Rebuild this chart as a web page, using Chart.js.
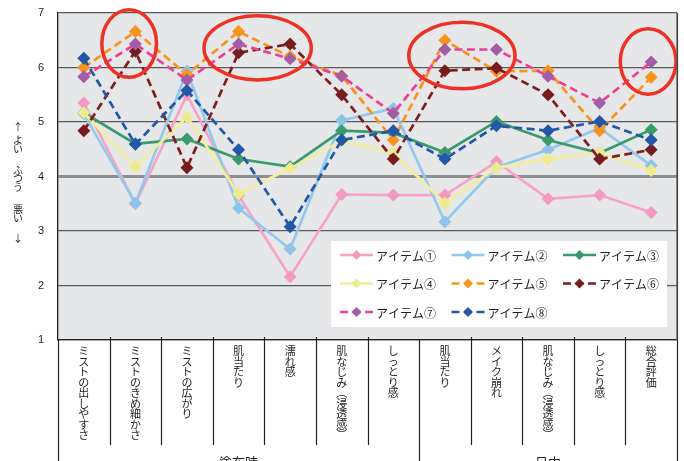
<!DOCTYPE html>
<html><head><meta charset="utf-8">
<script src="https://cdn.jsdelivr.net/npm/chart.js@4.4.1/dist/chart.umd.min.js"></script>
<style>html,body{margin:0;padding:0;background:#fff;}#wrap{width:684px;height:461px;}</style>
</head><body><div id="wrap"><canvas id="c" width="684" height="461"></canvas></div>
<script>
// ---------- data ----------
const categories = ['ミストの出しやすさ','ミストのきめ細かさ','ミストの広がり','肌当たり','濡れ感','肌なじみ（浸透感）','しっとり感','肌当たり','メイク崩れ','肌なじみ（浸透感）','しっとり感','総合評価'];
const groupLabels = ['塗布時','日中'];
const groupSizes = [7,5];
const seriesNames = ['アイテム①','アイテム②','アイテム③','アイテム④','アイテム⑤','アイテム⑥','アイテム⑦','アイテム⑧'];
const item1 = [5.35,3.50,5.50,3.65,2.16,3.67,3.66,3.66,4.27,3.59,3.66,3.34];
const item2 = [5.15,3.51,5.93,3.42,2.67,5.03,5.25,3.17,4.17,4.49,4.89,4.20];
const item3 = [5.17,4.60,4.69,4.32,4.18,4.84,4.80,4.44,5.01,4.67,4.43,4.86];
const item4 = [5.17,4.18,5.09,3.68,4.15,4.65,4.43,3.51,4.16,4.32,4.44,4.11];
const item5 = [6.00,6.66,5.87,6.66,6.20,5.85,4.67,6.50,5.93,5.94,4.84,5.82];
const item6 = [4.84,6.30,4.16,6.27,6.43,5.50,4.32,5.94,5.99,5.50,4.32,4.49];
const item7 = [5.83,6.43,5.77,6.43,6.16,5.84,5.16,6.33,6.33,5.84,5.35,6.10];
const item8 = [6.17,4.59,5.58,4.49,3.08,4.67,4.84,4.32,4.93,4.84,5.01,4.67];
const yMin = 1, yMax = 7, yStep = 1, yBaseline = 4;
const yTitleChars = ['↑','よ','い','ふ','つ','う','悪','い','↓'];
// highlight ellipses: centre in category index / value, radii in category units / value units
const highlights = [
  {cx:0.88, cy:6.44, rx:0.53, ry:0.62},
  {cx:3.37, cy:6.36, rx:1.04, ry:0.59},
  {cx:7.33, cy:6.22, rx:1.03, ry:0.61},
  {cx:10.94, cy:6.11, rx:0.54, ry:0.60}
];

// ---------- styles ----------
const lineColors  = ['#f5a3c7','#93c9ec','#3a9a6c','#f2ee9d','#f7941e','#7d1f21','#ee3f95','#2357a7'];
const pointColors = ['#f49ac1','#8cc4ea','#3a9a6c','#eeea8f','#f7941e','#761c1e','#a25da6','#2357a7'];
const dashed = [false,false,false,false,true,true,true,true];
const values = [item1,item2,item3,item4,item5,item6,item7,item8];
const JP = '"Noto Sans CJK JP", "Noto Sans", sans-serif';
const TEXT = '#231f20';

function vertical(s){
  return Array.from(s.replace(/（/g,'︵').replace(/）/g,'︶'));
}

const datasets = values.map((v,i)=>({
  label: seriesNames[i],
  data: v,
  borderColor: lineColors[i],
  backgroundColor: pointColors[i],
  pointBackgroundColor: pointColors[i],
  pointBorderColor: pointColors[i],
  pointStyle: 'rectRot',
  pointRadius: 6.5,
  pointBorderWidth: 0,
  borderWidth: 2.7,
  borderDash: dashed[i] ? [8,4.5] : [],
  tension: 0,
  fill: false,
  order: values.length - i
}));

const bgPlugin = {
  id:'bg',
  beforeDraw(chart){
    const {ctx, chartArea:a} = chart;
    ctx.save();
    ctx.fillStyle = '#e6e7e8';
    ctx.fillRect(a.left, a.top, a.right-a.left, a.bottom-a.top);
    ctx.restore();
  }
};

const overlayPlugin = {
  id:'overlay',
  afterDatasetsDraw(chart){
    const {ctx, chartArea:a, scales:{x,y}} = chart;
    const step = x.getPixelForValue(1) - x.getPixelForValue(0);
    ctx.save();
    ctx.strokeStyle = '#ee3124';
    ctx.lineWidth = 3.5;
    highlights.forEach(h=>{
      const cx = x.getPixelForValue(0) + h.cx*step;
      const cy = y.getPixelForValue(h.cy);
      const rx = h.rx*step;
      const ry = Math.abs(y.getPixelForValue(h.cy+h.ry) - cy);
      ctx.beginPath();
      ctx.ellipse(cx, cy, rx, ry, 0, 0, Math.PI*2);
      ctx.stroke();
    });
    ctx.restore();

    // legend box
    const bw = 336, bh = 86;
    const bx = a.right - 10 - bw, by = a.bottom - 13 - bh;
    ctx.save();
    ctx.fillStyle = '#ffffff';
    ctx.fillRect(bx, by, bw, bh);
    chart.data.datasets.forEach((d,i)=>{
      const col = i%3, row = Math.floor(i/3);
      const lx = bx + 9 + col*111.5;
      const ly = by + 14 + row*28.5;
      ctx.strokeStyle = d.borderColor;
      ctx.lineWidth = 2.7;
      ctx.setLineDash(d.borderDash);
      ctx.beginPath(); ctx.moveTo(lx, ly); ctx.lineTo(lx+33, ly); ctx.stroke();
      ctx.setLineDash([]);
      ctx.fillStyle = d.pointBackgroundColor;
      const r = 5;
      ctx.beginPath();
      ctx.moveTo(lx+16.5, ly-r); ctx.lineTo(lx+16.5+r, ly); ctx.lineTo(lx+16.5, ly+r); ctx.lineTo(lx+16.5-r, ly);
      ctx.closePath(); ctx.fill();
      ctx.fillStyle = TEXT;
      ctx.font = '12px ' + JP;
      ctx.textBaseline = 'middle';
      ctx.textAlign = 'left';
      ctx.fillText(d.label, lx+36, ly+1);
    });
    ctx.restore();
  },
  afterDraw(chart){
    const {ctx, chartArea:a, scales:{x,y}, height} = chart;
    const step = x.getPixelForValue(1) - x.getPixelForValue(0);
    const edge = i => x.getPixelForValue(0) - step/2 + i*step;
    ctx.save();
    ctx.strokeStyle = TEXT;
    ctx.lineWidth = 1.2;
    const bounds = [0];
    groupSizes.forEach(n=>bounds.push(bounds[bounds.length-1]+n));
    for (let i=0;i<=categories.length;i++){
      const px = Math.round(edge(i))+0.5;
      ctx.beginPath();
      if (bounds.includes(i)) { ctx.moveTo(px, i===categories.length ? a.top : a.bottom); ctx.lineTo(px, height); }
      else { ctx.moveTo(px, a.bottom-3); ctx.lineTo(px, a.bottom+105); }
      ctx.stroke();
    }
    ctx.strokeStyle = '#58595b';
    ctx.beginPath(); ctx.moveTo(a.right, a.top); ctx.lineTo(a.right, a.bottom); ctx.stroke();
    ctx.fillStyle = TEXT;
    ctx.font = '13px ' + JP;
    ctx.textAlign = 'center';
    ctx.textBaseline = 'top';
    groupLabels.forEach((g,k)=>{
      const cx = (edge(bounds[k]) + edge(bounds[k+1]))/2;
      ctx.fillText(g, cx, a.bottom + 116);
    });
    ctx.font = '10px ' + JP;
    ctx.textBaseline = 'middle';
    const ys = [127,140,149.5,170,178.5,187,209,218,238];
    yTitleChars.forEach((ch,k)=>{ ctx.fillText(ch, 18, ys[k]); });
    ctx.restore();
  }
};

new Chart(document.getElementById('c'), {
  type:'line',
  data:{ labels: categories.map(vertical), datasets },
  options:{
    responsive:false,
    animation:false,
    layout:{ padding:{ top:13, right:7, left:0, bottom:0 } },
    plugins:{ legend:{display:false}, tooltip:{enabled:false} },
    scales:{
      x:{
        type:'category',
        offset:true,
        grid:{ display:false, drawTicks:false },
        border:{ display:true, color:TEXT, width:1.3 },
        ticks:{ autoSkip:false, maxRotation:0, minRotation:0, padding:6, color:TEXT,
                font:{ family:JP, size:11, lineHeight:0.95 } },
        afterFit(s){ s.height = 121; }
      },
      y:{
        min:yMin, max:yMax,
        grid:{
          drawTicks:true,
          tickLength:12,
          tickColor:'rgba(0,0,0,0)',
          color: c => (c.tick && c.tick.value === yBaseline) ? '#8e8e8e' : '#58595b',
          lineWidth: c => (c.tick && c.tick.value === yBaseline) ? 3 : 1.2
        },
        border:{ display:true, color:TEXT, width:1.3 },
        ticks:{ stepSize:yStep, padding:2, color:TEXT, font:{ family:'"Liberation Sans", Arial, sans-serif', size:11 } },
        afterFit(s){ s.width = 58; }
      }
    }
  },
  plugins:[bgPlugin, overlayPlugin]
});
</script></body></html>
